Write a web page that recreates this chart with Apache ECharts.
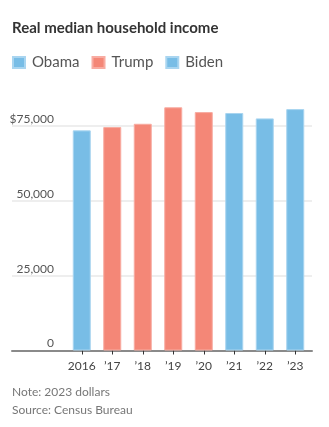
<!DOCTYPE html>
<html><head><meta charset="utf-8">
<script src="https://cdn.jsdelivr.net/npm/echarts@6/dist/echarts.min.js"></script>
<style>html,body{margin:0;padding:0;background:#fff}#c{width:329px;height:427px}</style>
</head><body><div id="c"></div>
<script>
var categories = ['2016', '\u201917', '\u201918', '\u201919', '\u201920', '\u201921', '\u201922', '\u201923'];
var obama = [73500, null, null, null, null, null, null, null];
var trump = [null, 74600, 75700, 81200, 79600, null, null, null];
var biden = [null, null, null, null, null, 79300, 77500, 80600];
var yTicks = [0, 25000, 50000, 75000];

var BLUE = '#78bde6', RED = '#f48777';
var FONT = 'Lato';
var chart = echarts.init(document.getElementById('c'), null, {renderer: 'canvas'});
function bar(name, data, color, border) {
  return {
    name: name, type: 'bar', xAxisIndex: 1, yAxisIndex: 1, stack: 'all',
    data: data.map(function (v) { return v == null ? '-' : v; }),
    barWidth: 18,
    itemStyle: {color: color, borderColor: border, borderWidth: 1},
    emphasis: {disabled: true}
  };
}
chart.setOption({
  animation: false,
  title: {
    text: 'Real median household income', left: 12, top: 21, padding: 0,
    textStyle: {fontFamily: FONT, fontSize: 15, fontWeight: 'bold', color: '#333'}
  },
  legend: {
    left: 12, top: 55, padding: 0, icon: 'rect', itemWidth: 12, itemHeight: 11, itemGap: 12,
    data: ['Obama', 'Trump', 'Biden'],
    textStyle: {fontFamily: FONT, fontSize: 15, color: '#555', padding: [0, 0, 0, 2]}
  },
  grid: [
    {left: 12, right: 17, top: 51, bottom: 76.5},
    {left: 66.5, right: 18.5, top: 51, bottom: 76.5}
  ],
  xAxis: [
    {gridIndex: 0, type: 'value', min: 0, max: 1,
     axisLine: {show: true, lineStyle: {color: '#8a8a8a', width: 2}},
     axisTick: {show: false}, axisLabel: {show: false}, splitLine: {show: false}},
    {gridIndex: 1, type: 'category', data: categories,
     axisLine: {show: false},
     axisTick: {show: true, alignWithLabel: true, interval: 0, length: 4, lineStyle: {color: '#333', width: 1}},
     axisLabel: {interval: 0, margin: 10, fontFamily: FONT, fontSize: 12, color: '#444'}}
  ],
  yAxis: [
    {gridIndex: 0, type: 'value', min: 0, max: 100000, interval: 25000,
     axisLine: {show: false}, axisTick: {show: false},
     splitLine: {show: true, showMaxLine: false, lineStyle: {color: '#eeeeee', width: 2}},
     axisLabel: {inside: true, margin: 42, align: 'right', verticalAlign: 'bottom',
       padding: [0, 0, 1, 0], showMaxLabel: false,
       fontFamily: FONT, fontSize: 12, color: '#555',
       formatter: function (v) {
         if (yTicks.indexOf(v) < 0) return '';
         var s = v.toLocaleString('en-US');
         return v === 75000 ? '$' + s : s;
       }}},
    {gridIndex: 1, type: 'value', min: 0, max: 100000, interval: 25000, show: false,
     splitLine: {show: false}}
  ],
  series: [
    bar('Obama', obama, BLUE, '#a9d5f0'),
    bar('Trump', trump, RED, '#f8aca2'),
    bar('Biden', biden, BLUE, '#a9d5f0')
  ],
  graphic: [
    {type: 'text', left: 12, top: 386, style: {text: 'Note: 2023 dollars', font: '12px Lato', fill: '#777'}},
    {type: 'text', left: 12, top: 404, style: {text: 'Source: Census Bureau', font: '12px Lato', fill: '#777'}}
  ]
});
</script></body></html>
